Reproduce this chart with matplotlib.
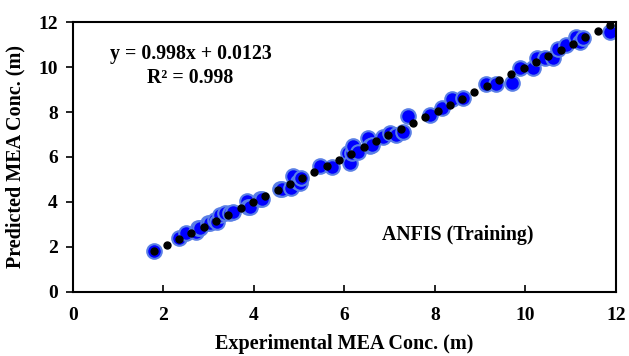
import numpy as np
import matplotlib.pyplot as plt

# experimental vs predicted
exp_vals = [1.80, 2.34, 2.49, 2.73, 2.77, 2.81, 2.99, 3.03, 3.14, 3.18, 3.25, 3.36,
            3.47, 3.54, 3.84, 3.87, 3.91, 4.13, 4.17, 4.57, 4.61, 4.83, 4.87, 4.98,
            5.02, 5.05, 5.46, 5.72, 6.08, 6.12, 6.16, 6.19, 6.31, 6.53, 6.56, 6.60,
            6.86, 7.00, 7.15, 7.30, 7.41, 7.89, 8.15, 8.37, 8.62, 9.14, 9.36, 9.71,
            9.88, 10.17, 10.25, 10.43, 10.61, 10.72, 10.91, 11.13, 11.20, 11.28, 11.87]
pred_vals = [1.82, 2.38, 2.61, 2.68, 2.83, 2.83, 3.05, 3.05, 3.20, 3.12, 3.40, 3.50,
             3.50, 3.57, 4.03, 3.79, 3.79, 4.12, 4.12, 4.58, 4.56, 4.61, 5.15, 4.90,
             4.83, 5.05, 5.62, 5.55, 6.16, 5.72, 6.16, 6.50, 6.24, 6.83, 6.48, 6.53,
             6.90, 7.05, 6.98, 7.12, 7.82, 7.87, 8.16, 8.56, 8.61, 9.24, 9.24, 9.27,
             9.94, 9.94, 10.39, 10.39, 10.39, 10.79, 10.98, 11.35, 11.10, 11.28, 11.57]

slope = 0.998
intercept = 0.0123
r2 = 0.998

plt.rcParams['font.family'] = ['Liberation Serif', 'DejaVu Serif']
plt.rcParams['font.weight'] = 'bold'

fig = plt.figure(figsize=(6.29, 3.56), dpi=100)
ax = fig.add_axes([0.116, 0.180, 0.863, 0.758])

ax.scatter(exp_vals, pred_vals, s=110, color='#0000FF', edgecolors='#5A7FE6',
           linewidths=1.5, zorder=2)

# trendline, drawn as round dots like the excel one (38 dots over the data range)
fx = np.linspace(min(exp_vals), max(exp_vals), 38)
ax.plot(fx, slope * fx + intercept, linestyle='none', marker='o', markersize=5,
        color='black', zorder=3)

ax.text(2.6, 10.6, f"y = {slope}x + {intercept}", ha='center', va='center',
        fontsize=14.3, fontweight='bold')
ax.text(2.6, 9.5, f"R\u00b2 = {r2}", ha='center', va='center',
        fontsize=14.3, fontweight='bold')
ax.text(8.5, 2.55, "ANFIS (Training)", ha='center', va='center',
        fontsize=14.3, fontweight='bold')

ax.set_xlim(0, 12)
ax.set_ylim(0, 12)
ax.set_xticks(np.arange(0, 13, 2))
ax.set_yticks(np.arange(0, 13, 2))
ax.tick_params(axis='x', direction='in', length=5, width=1.2, labelsize=14, pad=11)
ax.tick_params(axis='y', direction='out', length=5, width=1.2, labelsize=14, pad=6)
for lab in ax.get_xticklabels() + ax.get_yticklabels():
    lab.set_fontweight('bold')
for sp in ax.spines.values():
    sp.set_linewidth(1.5)

ax.set_xlabel("Experimental MEA Conc. (m)", fontsize=14.5, fontweight='bold', labelpad=7)
ax.set_ylabel("Predicted MEA Conc. (m)", fontsize=14.5, fontweight='bold', labelpad=9)

fig.savefig("out.png", dpi=100)
